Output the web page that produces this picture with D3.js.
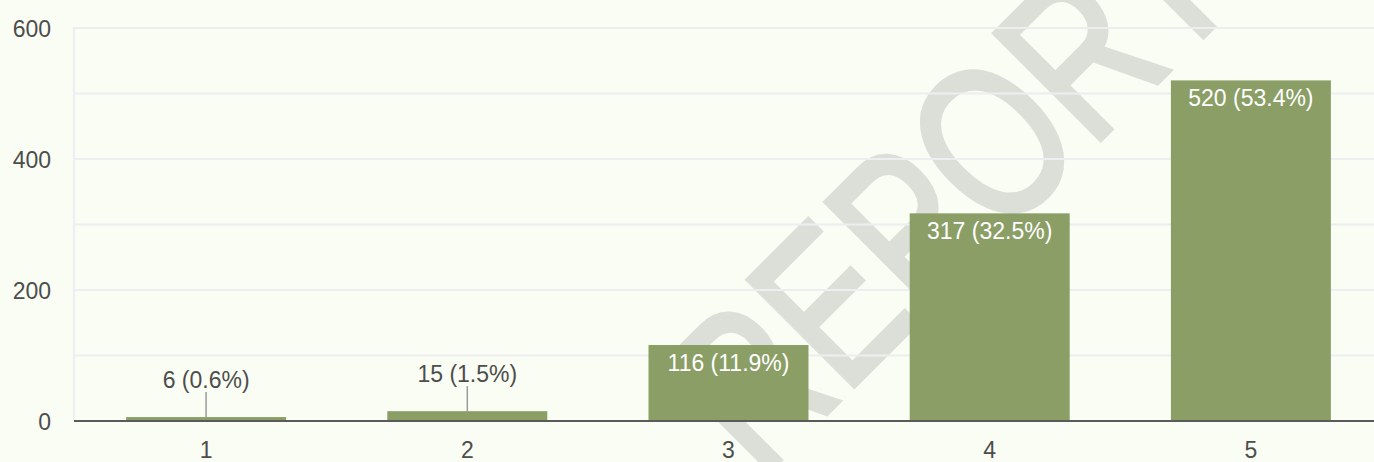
<!DOCTYPE html>
<html>
<head>
<meta charset="utf-8">
<script src="https://cdn.jsdelivr.net/npm/d3@7"></script>
<style>
  body { margin: 0; background: #fafdf3; }
  svg { display: block; font-family: "Liberation Sans", Arial, sans-serif; }
</style>
</head>
<body>
<div id="chart"></div>
<script>
// data
var categories = ["1", "2", "3", "4", "5"];
var counts = [6, 15, 116, 317, 520];
var percents = ["0.6%", "1.5%", "11.9%", "32.5%", "53.4%"];
var yTickLabels = [0, 200, 400, 600];
var gridValues = [100, 200, 300, 400, 500, 600];

var data = categories.map(function (c, i) {
    return { cat: c, count: counts[i], pct: percents[i] };
});

var width = 1374, height = 462;

var svg = d3.select("#chart")
    .append("svg")
    .attr("width", width)
    .attr("height", height);

svg.append("rect")
    .attr("width", width)
    .attr("height", height)
    .attr("fill", "#fafdf3");

// scales
var xscale = d3.scaleBand()
    .domain(categories)
    .range([75.5, 1381.5])
    .paddingInner(0.3875)
    .paddingOuter(0.3875 / 2);

var yscale = d3.scaleLinear()
    .domain([0, 600])
    .range([421, 28]);

// watermark, sits under the grid and bars
svg.append("text")
    .attr("transform", "translate(760,480) rotate(-45) scale(1,1.32)")
    .attr("font-size", 165)
    .attr("fill", "#dcdfd8")
    .attr("stroke", "#dcdfd8")
    .attr("stroke-width", 4)
    .attr("stroke-linejoin", "miter")
    .text("REPORT");

// grid lines
svg.append("g")
    .selectAll("line")
    .data(gridValues)
    .enter()
    .append("line")
    .attr("x1", 74)
    .attr("x2", width)
    .attr("y1", d => yscale(d))
    .attr("y2", d => yscale(d))
    .attr("stroke", "#edeef1")
    .attr("stroke-width", 2);

// left edge of the plot
svg.append("line")
    .attr("x1", 74).attr("x2", 74)
    .attr("y1", yscale(600) - 1).attr("y2", yscale(0))
    .attr("stroke", "#edeef1")
    .attr("stroke-width", 2);

// y axis labels
var yAxis = d3.axisLeft(yscale)
    .tickValues(yTickLabels)
    .tickSize(0)
    .tickPadding(0);
var gy = svg.append("g")
    .attr("transform", "translate(51,0)")
    .call(yAxis);
gy.select(".domain").remove();
gy.selectAll("text")
    .attr("font-size", 23)
    .attr("font-family", "Liberation Sans, Arial, sans-serif")
    .attr("fill", "#4d4d4d")
    .attr("dy", "0.35em");

// bars
svg.append("g")
    .selectAll("rect")
    .data(data)
    .enter()
    .append("rect")
    .attr("x", d => xscale(d.cat))
    .attr("y", d => yscale(d.count))
    .attr("width", xscale.bandwidth())
    .attr("height", d => yscale(0) - yscale(d.count))
    .attr("fill", "#8a9e66");

// baseline
svg.append("line")
    .attr("x1", 74).attr("x2", width)
    .attr("y1", yscale(0)).attr("y2", yscale(0))
    .attr("stroke", "#5a5a5a")
    .attr("stroke-width", 2);

// x axis labels
var xAxis = d3.axisBottom(xscale).tickSize(0).tickPadding(0);
var gx = svg.append("g")
    .attr("transform", "translate(0," + (yscale(0) + 21) + ")")
    .call(xAxis);
gx.select(".domain").remove();
gx.selectAll("text")
    .attr("font-size", 23)
    .attr("font-family", "Liberation Sans, Arial, sans-serif")
    .attr("fill", "#4d4d4d")
    .attr("dy", "0.71em");

// value labels: inside tall bars, above short ones with a leader line
var labels = svg.append("g");
data.forEach(function (d) {
    var cx = xscale(d.cat) + xscale.bandwidth() / 2;
    var top = yscale(d.count);
    var txt = d.count + " (" + d.pct + ")";
    if (yscale(0) - top > 40) {
        labels.append("text")
            .attr("x", cx)
            .attr("y", top + 26)
            .attr("text-anchor", "middle")
            .attr("font-size", 23)
            .attr("fill", "#ffffff")
            .text(txt);
    } else {
        labels.append("line")
            .attr("x1", cx).attr("x2", cx)
            .attr("y1", top - 25).attr("y2", top)
            .attr("stroke", "#9a9a9a")
            .attr("stroke-width", 1.5);
        labels.append("text")
            .attr("x", cx)
            .attr("y", top - 29)
            .attr("text-anchor", "middle")
            .attr("font-size", 23)
            .attr("fill", "#4d4d4d")
            .text(txt);
    }
});
</script>
</body>
</html>
